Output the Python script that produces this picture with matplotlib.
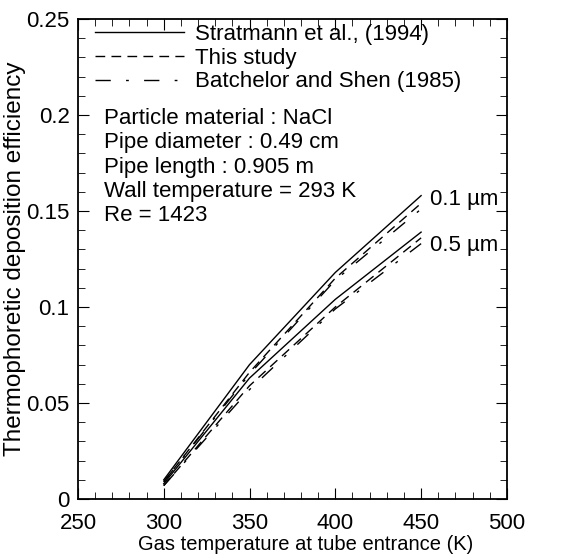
import matplotlib
matplotlib.use('Agg')
import matplotlib.pyplot as plt
from matplotlib.ticker import MultipleLocator

plt.rcParams['font.family'] = ['Liberation Sans', 'DejaVu Sans']

# Datos
temp = [300, 350, 400, 450]
strat_01 = [0.010, 0.070, 0.118, 0.158]
study_01 = [0.009, 0.066, 0.115, 0.154]
batch_01 = [0.009, 0.065, 0.114, 0.151]
strat_05 = [0.008, 0.063, 0.104, 0.139]
study_05 = [0.007, 0.059, 0.100, 0.136]
batch_05 = [0.007, 0.057, 0.099, 0.133]

fs = 16

fig = plt.figure(figsize=(5.86, 5.57), dpi=100)
ax = fig.add_axes([0.133, 0.104, 0.732, 0.862])

lw = 1.0
dash = (0, (7, 4.5))
dashdot = (0, (11, 11, 2, 11))
ax.plot(temp, strat_01, color='black', lw=lw, label='Stratmann et al., (1994)')
ax.plot(temp, study_01, color='black', lw=lw, ls=dash, label='This study')
ax.plot(temp, batch_01, color='black', lw=lw, ls=dashdot,
        label='Batchelor and Shen (1985)')
ax.plot(temp, strat_05, color='black', lw=lw)
ax.plot(temp, study_05, color='black', lw=lw, ls=dash)
ax.plot(temp, batch_05, color='black', lw=lw, ls=dashdot)

ax.text(455, 0.156, '0.1 µm', fontsize=fs, va='center')
ax.text(455, 0.132, '0.5 µm', fontsize=fs, va='center')

ax.text(265, 0.2035, 'Particle material : NaCl\nPipe diameter : 0.49 cm\n'
        'Pipe length : 0.905 m\nWall temperature = 293 K\nRe = 1423',
        fontsize=fs, va='top', linespacing=1.2)

ax.set_xlim(250, 500)
ax.set_ylim(0, 0.25)
ax.xaxis.set_major_locator(MultipleLocator(50))
ax.xaxis.set_minor_locator(MultipleLocator(10))
ax.set_yticks([0, 0.05, 0.1, 0.15, 0.2, 0.25])
ax.set_yticklabels(['0', '0.05', '0.1', '0.15', '0.2', '0.25'])
ax.yaxis.set_minor_locator(MultipleLocator(0.01))
ax.tick_params(which='both', direction='in', top=True, right=True, labelsize=fs)
ax.tick_params(which='major', length=8)
ax.tick_params(which='minor', length=5)
ax.tick_params(axis='x', which='major', pad=10)
ax.tick_params(axis='y', which='major', pad=6)
for s in ax.spines.values():
    s.set_linewidth(1.3)

ax.set_xlabel('Gas temperature at tube entrance (K)', fontsize=14.5, labelpad=2)
ax.xaxis.set_label_coords(0.53, -0.075)
ax.set_ylabel('Thermophoretic deposition efficiency', fontsize=17.5, labelpad=0)

ax.legend(loc='upper left', bbox_to_anchor=(0.02, 1.008), frameon=False,
          fontsize=fs, handlelength=4.0, handletextpad=0.5, labelspacing=0.12,
          borderaxespad=0)

fig.savefig('out.png', dpi=100)
